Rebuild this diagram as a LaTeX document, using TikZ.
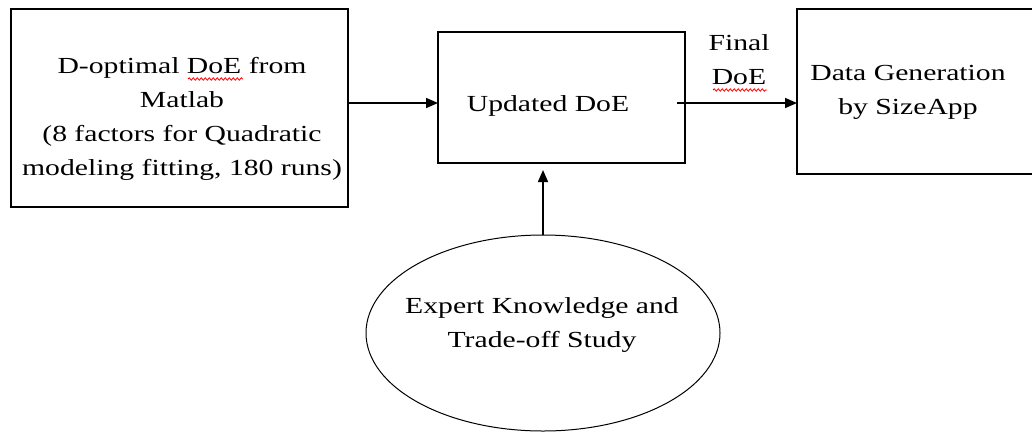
\documentclass[tikz,border=0pt]{standalone}
\usepackage{fontspec}
\setmainfont[FakeStretch=1.29]{Liberation Serif}
\usetikzlibrary{arrows.meta,shapes.geometric,decorations.pathmorphing}
\begin{document}
\begin{tikzpicture}[x=1pt,y=-1pt,
  box/.style={draw,line width=1.6pt},
  txt/.style={align=center,font=\fontsize{23}{34}\selectfont,inner sep=0pt},
  arr/.style={line width=1.6pt,-{Triangle[length=12pt,width=10pt]}},
  squig/.style={red,line width=0.8pt,decorate,decoration={snake,amplitude=1.2pt,segment length=4pt}}]
\useasboundingbox (0,0) rectangle (1032,432);
\clip (0,0) rectangle (1032,432);
\draw[box] (11,9) rectangle (348,207);
\coordinate (Lr) at (348,103);
\node[txt] (Ltxt) at (182,119) {D-optimal DoE from\\Matlab\\(8 factors for Quadratic\\modeling fitting, 180 runs)};
\draw[box] (438,32) rectangle (685,163);
\coordinate (Ml) at (438,103);
\coordinate (Mr) at (677,103);
\coordinate (Mb) at (543,170);
\node[txt] (Mtxt) at (548,106) {Updated DoE};
\draw[box] (797,9) rectangle (1045,174);
\coordinate (Rl) at (797,103);
\node[txt] (Rtxt) at (908,92) {Data Generation\\by SizeApp};
\node[draw,ellipse,line width=1pt,minimum width=354pt,minimum height=196pt,inner sep=0pt] (E) at (543,333) {};
\node[txt] (Etxt) at (542,325) {Expert Knowledge and\\Trade-off Study};
\node[txt] (F) at (739,60) {Final\\DoE};
\draw[arr] (Lr) -- (Ml);
\draw[arr] (Mr) -- (Rl);
\draw[arr] (E.north) -- (Mb);
\coordinate (s1a) at (188,79); \coordinate (s1b) at (243,79);
\coordinate (s2a) at (713,90); \coordinate (s2b) at (767,90);
\draw[squig] (s1a) -- (s1b);
\draw[squig] (s2a) -- (s2b);
\end{tikzpicture}
\end{document}
